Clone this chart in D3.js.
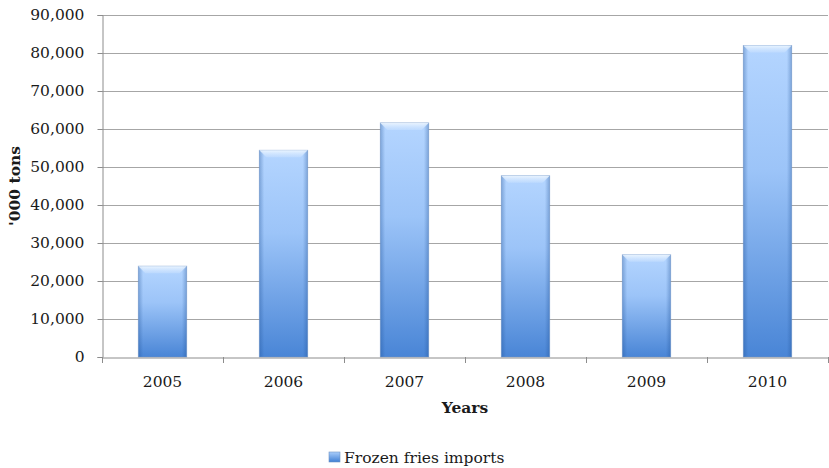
<!DOCTYPE html>
<html>
<head>
<meta charset="utf-8">
<script src="https://cdn.jsdelivr.net/npm/d3@7"></script>
<style>
  html, body { margin: 0; padding: 0; background: #fff; }
  svg text { font-family: "DejaVu Serif", "Liberation Serif", serif; fill: #1a1a1a; }
</style>
</head>
<body>
<svg id="chart" width="829" height="468"></svg>
<script>
// Frozen fries imports by year ('000 tons)
const years = ["2005", "2006", "2007", "2008", "2009", "2010"];
const imports = [23900, 54400, 61600, 47700, 26900, 82000];
const yTicks = [0, 10000, 20000, 30000, 40000, 50000, 60000, 70000, 80000, 90000];
const seriesName = "Frozen fries imports";
const yTitle = "'000 tons";
const xTitle = "Years";

const svg = d3.select("#chart");
const margin = { left: 102, right: 1, top: 15, bottom: 111 };
const W = 829, H = 468;
const plotW = W - margin.left - margin.right;
const plotH = H - margin.top - margin.bottom;
const fs = "15.5px";

const x = d3.scaleBand().domain(years).range([margin.left, margin.left + plotW]).paddingInner(0.6).paddingOuter(0.3);
const xBand = d3.scaleBand().domain(years).range([margin.left, margin.left + plotW]);
const y = d3.scaleLinear().domain([0, 90000]).range([margin.top + plotH, margin.top]);

// Gradients for the bars
const defs = svg.append("defs");
const vg = defs.append("linearGradient").attr("id", "barV").attr("x1", 0).attr("y1", 0).attr("x2", 0).attr("y2", 1);
vg.append("stop").attr("offset", "0%").attr("stop-color", "#b4d5ff");
vg.append("stop").attr("offset", "40%").attr("stop-color", "#9cc4f8");
vg.append("stop").attr("offset", "100%").attr("stop-color", "#4985d6");
const hg = defs.append("linearGradient").attr("id", "barH").attr("x1", 0).attr("y1", 0).attr("x2", 1).attr("y2", 0);
hg.append("stop").attr("offset", "0%").attr("stop-color", "#1d4f94").attr("stop-opacity", 0.35);
hg.append("stop").attr("offset", "10%").attr("stop-color", "#1d4f94").attr("stop-opacity", 0);
hg.append("stop").attr("offset", "90%").attr("stop-color", "#1d4f94").attr("stop-opacity", 0);
hg.append("stop").attr("offset", "100%").attr("stop-color", "#1d4f94").attr("stop-opacity", 0.35);
const bg = defs.append("linearGradient").attr("id", "bevel").attr("x1", 0).attr("y1", 0).attr("x2", 0).attr("y2", 1);
bg.append("stop").attr("offset", "0%").attr("stop-color", "#f0f8ff").attr("stop-opacity", 0.9);
bg.append("stop").attr("offset", "100%").attr("stop-color", "#cfe4ff").attr("stop-opacity", 0.4);
const lg = defs.append("linearGradient").attr("id", "legV").attr("x1", 0).attr("y1", 0).attr("x2", 0).attr("y2", 1);
lg.append("stop").attr("offset", "0%").attr("stop-color", "#a9cdfb");
lg.append("stop").attr("offset", "100%").attr("stop-color", "#3f7fd4");

// Gridlines
svg.append("g")
  .selectAll("line")
  .data(yTicks.filter(d => d > 0))
  .join("line")
  .attr("x1", margin.left).attr("x2", margin.left + plotW)
  .attr("y1", d => Math.round(y(d)) + 0.5).attr("y2", d => Math.round(y(d)) + 0.5)
  .attr("stroke", "#a6a6a6").attr("stroke-width", 1);

// Y axis
const yAxis = svg.append("g")
  .attr("transform", `translate(${margin.left + 0.5},0)`)
  .call(d3.axisLeft(y).tickValues(yTicks).tickSize(5).tickPadding(13).tickFormat(d3.format(",")));
yAxis.select(".domain").attr("stroke", "#8c8c8c");
yAxis.selectAll(".tick line").attr("stroke", "#8c8c8c");
yAxis.selectAll(".tick text").style("font-size", fs).attr("fill", "#1a1a1a");

// Bars
const bars = svg.append("g").selectAll("g.bar")
  .data(years.map((yr, i) => ({ yr, v: imports[i] })))
  .join("g").attr("class", "bar");
bars.append("rect")
  .attr("x", d => x(d.yr)).attr("width", x.bandwidth())
  .attr("y", d => y(d.v)).attr("height", d => y(0) - y(d.v))
  .attr("fill", "url(#barV)");
bars.append("rect")
  .attr("x", d => x(d.yr)).attr("width", x.bandwidth())
  .attr("y", d => y(d.v)).attr("height", d => y(0) - y(d.v))
  .attr("fill", "url(#barH)")
  .attr("stroke", "#6f93c4").attr("stroke-width", 0.8).attr("stroke-opacity", 0.7);
// Top bevel highlight
bars.append("path")
  .attr("d", d => {
    const x0 = x(d.yr), x1 = x0 + x.bandwidth(), t = y(d.v), b = 7;
    return `M${x0},${t}L${x1},${t}L${x1 - b},${t + b}L${x0 + b},${t + b}Z`;
  })
  .attr("fill", "url(#bevel)");

// X axis
const xAxis = svg.append("g")
  .attr("transform", `translate(0,${y(0) + 0.5})`)
  .call(d3.axisBottom(xBand).tickSize(0).tickPadding(18));
xAxis.select(".domain").attr("stroke", "#8c8c8c");
xAxis.selectAll(".tick text").style("font-size", fs).attr("fill", "#1a1a1a");
svg.append("g").selectAll("line")
  .data(years.map(yr => xBand(yr)).concat([margin.left + plotW]))
  .join("line")
  .attr("x1", d => Math.round(d) + 0.5).attr("x2", d => Math.round(d) + 0.5)
  .attr("y1", y(0)).attr("y2", y(0) + 6)
  .attr("stroke", "#8c8c8c");

// Axis titles
svg.append("text")
  .attr("transform", `translate(20,${(y(0) + y(90000)) / 2}) rotate(-90)`)
  .attr("text-anchor", "middle")
  .style("font-size", fs).style("font-weight", "bold")
  .text(yTitle);
svg.append("text")
  .attr("x", margin.left + plotW / 2).attr("y", 413)
  .attr("text-anchor", "middle")
  .style("font-size", fs).style("font-weight", "bold")
  .text(xTitle);

// Legend
const leg = svg.append("g").attr("transform", "translate(329,452)");
leg.append("rect").attr("width", 11).attr("height", 10).attr("fill", "url(#legV)").attr("stroke", "#6f93c4").attr("stroke-width", 0.6);
leg.append("text").attr("x", 15).attr("y", 10.5).style("font-size", fs).text(seriesName);
</script>
</body>
</html>
